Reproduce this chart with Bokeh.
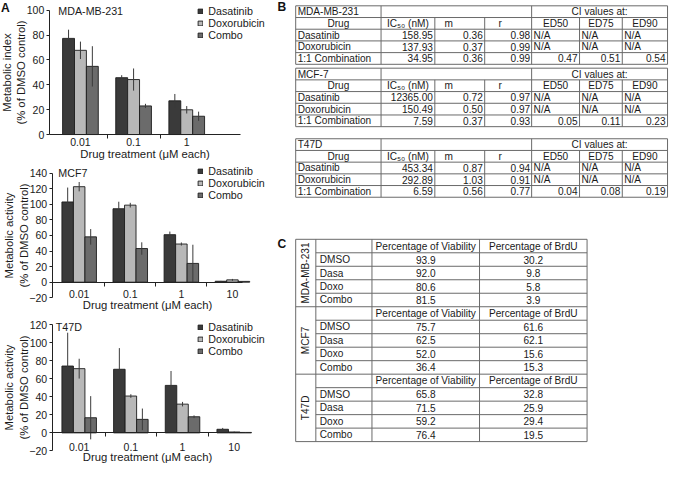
import math
from bokeh.plotting import figure
from bokeh.layouts import row, column
from bokeh.models import ColumnDataSource, Range1d, FixedTicker, Label, Legend, LegendItem
from bokeh.embed import file_html
from bokeh.resources import INLINE
from bokeh.core.properties import value

# ---------------- data: panel A ----------------
series_names = ["Dasatinib", "Doxorubicin", "Combo"]
series_colors = ["#3a3a3a", "#b8b8b8", "#6b6b6b"]

doses_mda = ["0.01", "0.1", "1"]
mda_dasatinib = [77.3, 45.7, 27.1]
mda_dasatinib_err = [7.0, 2.0, 5.5]
mda_doxorubicin = [67.7, 44.2, 19.9]
mda_doxorubicin_err = [7.0, 8.9, 3.0]
mda_combo = [54.8, 23.0, 14.7]
mda_combo_err = [16.2, 1.7, 3.7]

doses_mcf = ["0.01", "0.1", "1", "10"]
mcf_dasatinib = [103.0, 94.3, 61.0, 1.2]
mcf_dasatinib_err = [18.5, 9.0, 4.0, 0.5]
mcf_doxorubicin = [122.6, 98.9, 49.0, 3.0]
mcf_doxorubicin_err = [6.0, 3.0, 2.0, 1.2]
mcf_combo = [58.2, 43.2, 24.1, 1.0]
mcf_combo_err = [10.0, 8.0, 24.0, 0.5]

doses_t47 = ["0.01", "0.1", "1", "10"]
t47_dasatinib = [74.2, 70.6, 52.7, 4.0]
t47_dasatinib_err = [37.0, 23.5, 16.0, 1.5]
t47_doxorubicin = [71.3, 40.9, 31.9, 1.0]
t47_doxorubicin_err = [11.0, 2.0, 2.5, 0.4]
t47_combo = [16.8, 15.0, 17.9, 0.5]
t47_combo_err = [24.0, 12.0, 1.5, 0.3]

yticks_mda = [0, 20, 40, 60, 80, 100]
yticks_mcf = [-20, 0, 20, 40, 60, 80, 100, 120, 140]
yticks_t47 = [-20, 0, 20, 40, 60, 80, 100, 120]

# ---------------- data: panel B ----------------
b_cell_lines = ["MDA-MB-231", "MCF-7", "T47D"]
b_drugs = ["Dasatinib", "Doxorubicin", "1:1 Combination"]
b_headers = ["Drug", "IC\u2085\u2080 (nM)", "m", "r", "ED50", "ED75", "ED90"]
b_ic50 = [["158.95", "137.93", "34.95"], ["12365.00", "150.49", "7.59"], ["453.34", "292.89", "6.59"]]
b_m = [["0.36", "0.37", "0.36"], ["0.72", "0.50", "0.37"], ["0.87", "1.03", "0.56"]]
b_r = [["0.98", "0.99", "0.99"], ["0.97", "0.97", "0.93"], ["0.94", "0.91", "0.77"]]
b_ed50 = [["N/A", "N/A", "0.47"], ["N/A", "N/A", "0.05"], ["N/A", "N/A", "0.04"]]
b_ed75 = [["N/A", "N/A", "0.51"], ["N/A", "N/A", "0.11"], ["N/A", "N/A", "0.08"]]
b_ed90 = [["N/A", "N/A", "0.54"], ["N/A", "N/A", "0.23"], ["N/A", "N/A", "0.19"]]

# ---------------- data: panel C ----------------
c_cell_lines = ["MDA-MB-231", "MCF7", "T47D"]
c_treatments = ["DMSO", "Dasa", "Doxo", "Combo"]
c_headers = ["Percentage of Viability", "Percentage of BrdU"]
c_viability = [["93.9", "92.0", "80.6", "81.5"], ["75.7", "62.5", "52.0", "36.4"], ["65.8", "71.5", "59.2", "76.4"]]
c_brdu = [["30.2", "9.8", "5.8", "3.9"], ["61.6", "62.1", "15.6", "15.3"], ["32.8", "25.9", "29.4", "19.5"]]

# ---------------- layout (reference px -> output px) ----------------
SX = 669 / 685
SY = 466 / 482
FS = 0.97
FONT = "Liberation Sans"
LEFT_W_REF = 280
INK = "#1a1a1a"


def fpx(s):
    return "%.1fpx" % (s * FS)


def chart(name, doses, vals, errs, yticks, ylab, sp, show_a=False):
    top, h, ft, fb, fl = sp["top"], sp["h"], sp["ft"], sp["fb"], sp["fl"]
    g0, gs = sp["g0"], sp["gs"]
    y0, y1 = yticks[0], yticks[-1]
    kpx = (fb - ft) / (y1 - y0)

    def dx(px):
        return (px - g0) / gs

    def dy(py):
        return y1 - (py - ft) / kpx

    H = sp["H"]
    p = figure(width=round(LEFT_W_REF * SX), height=H,
               x_range=Range1d(dx(0), dx(LEFT_W_REF)), y_range=Range1d(dy(top + h), dy(top)),
               output_backend="svg", toolbar_location=None, min_border=0)
    p.xgrid.visible = False
    p.ygrid.visible = False
    p.outline_line_color = None

    bw = sp["bw"] / gs
    renderers = []
    for k in range(3):
        xs = [i + (k - 1) * bw for i in range(len(doses))]
        src = ColumnDataSource(dict(x=xs, top=vals[k],
                                    lo=[v - e for v, e in zip(vals[k], errs[k])],
                                    hi=[v + e for v, e in zip(vals[k], errs[k])]))
        r = p.vbar(x="x", top="top", bottom=0, width=bw, source=src,
                   fill_color=series_colors[k], line_color="#1c1c1c", line_width=0.9)
        p.segment(x0="x", y0="lo", x1="x", y1="hi", source=src,
                  line_color="#3a3a3a", line_width=1)
        renderers.append(r)

    # y axis (drawn inside the canvas at the reference's position)
    ya = p.yaxis[0]
    ya.fixed_location = dx(fl)
    ya.bounds = (y0, y1)
    ya.ticker = FixedTicker(ticks=yticks)
    ya.major_label_overrides = {t: ("\u2212%d" % -t if t < 0 else "%d" % t) for t in yticks}
    ya.axis_label = ylab
    ya.axis_label_text_font = FONT
    ya.axis_label_text_font_size = fpx(11.6)
    ya.axis_label_text_font_style = "normal"
    ya.axis_label_text_color = INK
    ya.axis_label_standoff = -3
    ya.major_label_text_font = FONT
    ya.major_label_text_font_size = fpx(10.8)
    ya.major_label_text_color = INK
    ya.major_label_standoff = 2
    ya.major_tick_in = 0
    ya.major_tick_out = 3
    ya.minor_tick_line_color = None
    ya.axis_line_color = "#222222"
    ya.major_tick_line_color = "#222222"

    # x axis at y = 0
    xa = p.xaxis[0]
    n = len(doses)
    xa.fixed_location = 0
    xa.bounds = (dx(fl), dx(sp["xr"]))
    xa.ticker = FixedTicker(ticks=list(range(n)), minor_ticks=[i + 0.5 for i in range(n - 1)])
    xa.major_label_overrides = {i: d for i, d in enumerate(doses)}
    xa.major_tick_line_color = None
    xa.major_tick_in = 0
    xa.major_tick_out = 0
    xa.minor_tick_in = 0
    xa.minor_tick_out = 4
    xa.minor_tick_line_color = "#222222"
    xa.axis_line_color = "#222222"
    xa.major_label_standoff = sp["mls"]
    xa.major_label_text_font = FONT
    xa.major_label_text_font_size = fpx(10.8)
    xa.major_label_text_color = INK
    xa.axis_label = "Drug treatment (\u03bcM each)"
    xa.axis_label_text_font = FONT
    xa.axis_label_text_font_size = fpx(11.6)
    xa.axis_label_text_font_style = "normal"
    xa.axis_label_text_color = INK
    xa.axis_label_standoff = sp["xls"]

    # legend
    lh = 12
    leg_bottom_out = (sp["lt"] - top) * SY + 3 * lh
    legend = Legend(items=[LegendItem(label=series_names[k], renderers=[renderers[k]]) for k in range(3)],
                    location=(202 * SX, H - leg_bottom_out))
    legend.glyph_width = 6
    legend.glyph_height = 6
    legend.label_height = lh
    legend.label_standoff = 5
    legend.spacing = 0
    legend.padding = 0
    legend.margin = 0
    legend.border_line_color = None
    legend.background_fill_alpha = 0
    legend.label_text_font = FONT
    legend.label_text_font_size = fpx(11.0)
    legend.label_text_color = INK
    p.add_layout(legend)

    p.add_layout(Label(x=dx(sp["tx"]), y=dy(sp["ty"]), text=name, text_align="left",
                       text_baseline="middle", text_font=FONT, text_font_size=fpx(11.0),
                       text_color=INK))
    if show_a:
        p.add_layout(Label(x=dx(0.5), y=dy(top + 0.5), text="A", text_align="left",
                           text_baseline="top", text_font=FONT, text_font_size=fpx(12.5),
                           text_font_style="bold", text_color="#111111"))
    return p


spec1 = dict(top=0, h=168, H=162, ft=10, fb=139, fl=50, xr=246, g0=82, gs=54.5, bw=12.2,
             tx=59.3, ty=10.5, lt=5.3, mls=-1, xls=-1)
spec2 = dict(top=168, h=154, H=149, ft=179, fb=307.8, fl=53, xr=248, g0=80.7, gs=52.4, bw=11.8,
             tx=59.3, ty=179, lt=171, mls=4, xls=-3)
spec3 = dict(top=322, h=160, H=155, ft=335.7, fb=465.9, fl=53, xr=248, g0=80.7, gs=53.0, bw=11.8,
             tx=56.7, ty=337.5, lt=332, mls=6, xls=-3)

c1 = chart("MDA-MB-231", doses_mda,
           [mda_dasatinib, mda_doxorubicin, mda_combo],
           [mda_dasatinib_err, mda_doxorubicin_err, mda_combo_err],
           yticks_mda, "Metabolic index\n(% of DMSO control)", spec1, show_a=True)
c2 = chart("MCF7", doses_mcf,
           [mcf_dasatinib, mcf_doxorubicin, mcf_combo],
           [mcf_dasatinib_err, mcf_doxorubicin_err, mcf_combo_err],
           yticks_mcf, "Metabolic activity\n(% of DMSO control)", spec2)
c3 = chart("T47D", doses_t47,
           [t47_dasatinib, t47_doxorubicin, t47_combo],
           [t47_dasatinib_err, t47_doxorubicin_err, t47_combo_err],
           yticks_t47, "Metabolic activity\n(% of DMSO control)", spec3)

# ---------------- panels B and C (tables) ----------------
RIGHT_W = 669 - round(LEFT_W_REF * SX)
pr = figure(width=RIGHT_W, height=466, x_range=Range1d(LEFT_W_REF, 685), y_range=Range1d(482, 0),
            output_backend="svg", toolbar_location=None, min_border=0,
            x_axis_type=None, y_axis_type=None)
pr.outline_line_color = None

seg = dict(x0=[], y0=[], x1=[], y1=[])


def hline(x0, x1, y):
    seg["x0"].append(x0); seg["x1"].append(x1); seg["y0"].append(y); seg["y1"].append(y)


def vline(x, y0, y1):
    seg["x0"].append(x); seg["x1"].append(x); seg["y0"].append(y0); seg["y1"].append(y1)


texts = {"left": ([], [], []), "center": ([], [], []), "right": ([], [], [])}


def put(align, x, y, t):
    texts[align][0].append(x); texts[align][1].append(y); texts[align][2].append(t)


# table B
bx = [302.7, 390.0, 445.0, 496.0, 544.0, 593.0, 636.7, 683.0]
b_rh = 12.1
b_tops = [5.5, 70.0, 143.0]
for t, top in enumerate(b_tops):
    ys = [top + k * b_rh for k in range(6)]
    yc = [top + (k + 0.5) * b_rh for k in range(5)]
    for y in ys:
        hline(bx[0], bx[-1], y)
    for i in (0, 1, 4, 7):
        vline(bx[i], ys[0], ys[5])
    for i in (2, 3, 5, 6):
        vline(bx[i], ys[1], ys[5])
    put("left", bx[0] + 2, yc[0], b_cell_lines[t])
    put("center", (bx[4] + bx[7]) / 2, yc[0], "CI values at:")
    put("center", (bx[0] + bx[1]) / 2, yc[1], b_headers[0])
    put("left", bx[1] + 6, yc[1], b_headers[1])
    put("left", bx[2] + 10, yc[1], b_headers[2])
    put("left", bx[3] + 14, yc[1], b_headers[3])
    for i in range(3):
        put("center", (bx[4 + i] + bx[5 + i]) / 2, yc[1], b_headers[4 + i])
    for j in range(3):
        y = yc[2 + j]
        put("left", bx[0] + 2, y, b_drugs[j])
        put("right", bx[2] - 2, y, b_ic50[t][j])
        put("right", bx[3] - 2, y, b_m[t][j])
        put("right", bx[4] - 1.5, y, b_r[t][j])
        for i, col in enumerate((b_ed50, b_ed75, b_ed90)):
            v = col[t][j]
            if v == "N/A":
                put("left", bx[4 + i] + 2, y, v)
            else:
                put("right", bx[5 + i] - 2, y, v)

# table C
cx = [302.7, 323.3, 380.7, 490.7, 600.7]
c_top = 247.0
c_rh = 13.95
for k in range(16):
    y = c_top + k * c_rh
    hline(cx[0] if k % 5 == 0 else cx[1], cx[4], y)
for x in cx:
    vline(x, c_top, c_top + 15 * c_rh)
rot = ([], [], [])
for b in range(3):
    rot[0].append((cx[0] + cx[1]) / 2)
    rot[1].append(c_top + (5 * b + 2.5) * c_rh)
    rot[2].append(c_cell_lines[b])
    yh = c_top + (5 * b + 0.5) * c_rh
    put("center", (cx[2] + cx[3]) / 2, yh, c_headers[0])
    put("center", (cx[3] + cx[4]) / 2, yh, c_headers[1])
    for j in range(4):
        y = c_top + (5 * b + 1.5 + j) * c_rh
        put("left", cx[1] + 4, y, c_treatments[j])
        put("center", (cx[2] + cx[3]) / 2, y, c_viability[b][j])
        put("center", (cx[3] + cx[4]) / 2, y, c_brdu[b][j])

pr.segment(x0=seg["x0"], y0=seg["y0"], x1=seg["x1"], y1=seg["y1"], line_color="#6a6a6a", line_width=1)
for align, (xs, ys, ts) in texts.items():
    pr.text(x=xs, y=ys, text=ts, text_align=align, text_baseline="middle",
            text_font=value(FONT), text_font_size=value(fpx(10.4)), text_color=INK)
pr.text(x=rot[0], y=rot[1], text=rot[2], angle=math.pi / 2, text_align="center",
        text_baseline="middle", text_font=value(FONT), text_font_size=value(fpx(10.4)),
        text_color=INK)
pr.text(x=[284, 284], y=[7, 252], text=["B", "C"], text_align="left", text_baseline="middle",
        text_font=value(FONT), text_font_size=value(fpx(12.5)), text_font_style="bold",
        text_color="#111111")

layout = row(column(c1, c2, c3, spacing=0), pr, spacing=0)
open("out.html", "w").write(file_html(layout, INLINE))
